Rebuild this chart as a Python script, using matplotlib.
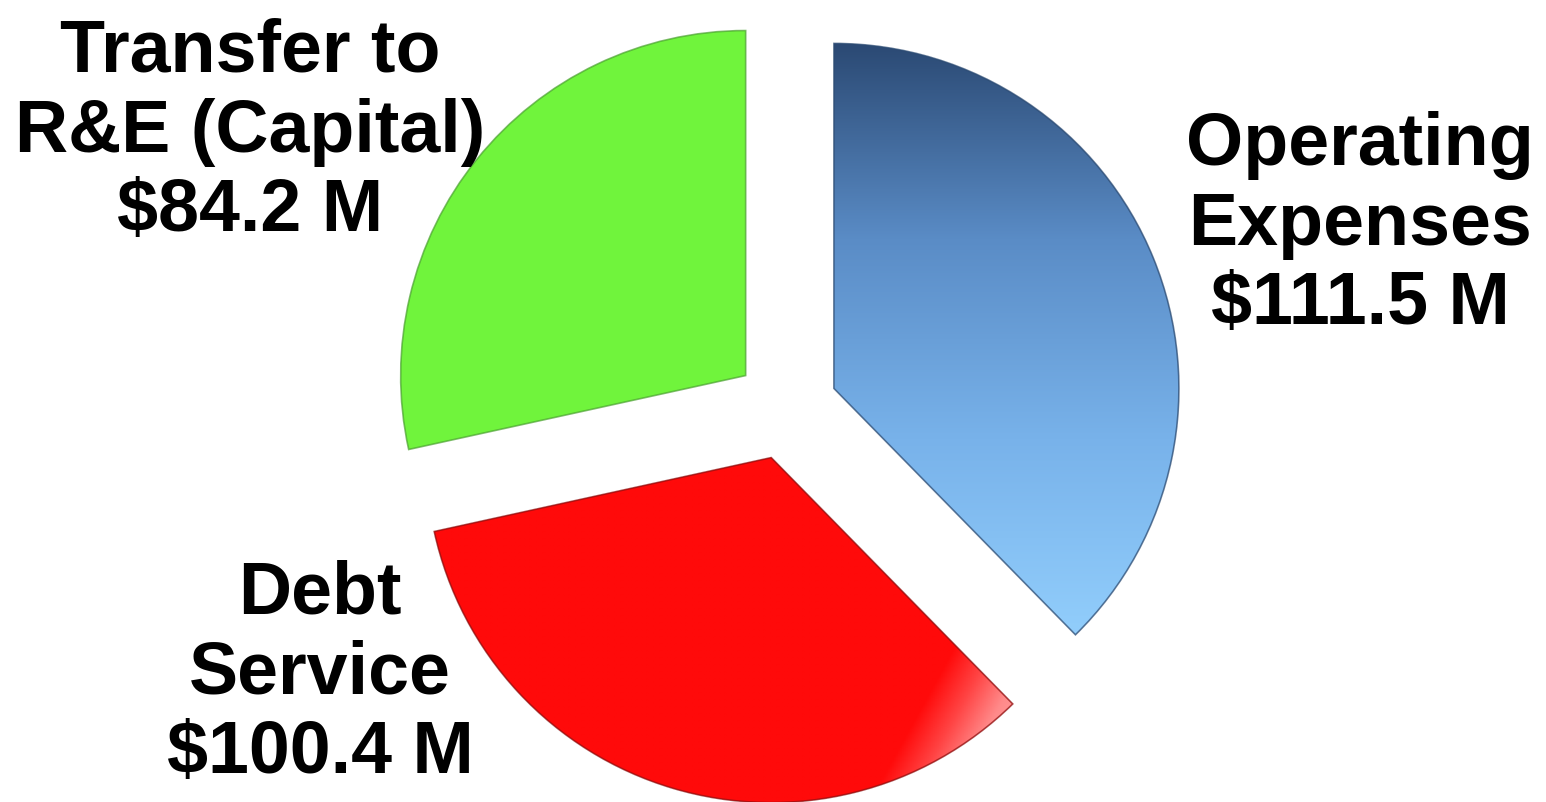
import numpy as np
import matplotlib.pyplot as plt
from matplotlib.colors import LinearSegmentedColormap
from matplotlib.patches import PathPatch

# Data
categories = ["Operating\nExpenses", "Debt\nService", "Transfer to\nR&E (Capital)"]
amounts = [111.5, 100.4, 84.2]  # $ millions
colors = ["#5a8bc4", "#ff0a0a", "#70f43c"]

W, H = 1546, 803
cx, cy, R = 786, 409, 345  # pie centre / radius in pixels (y from top)

fig = plt.figure(figsize=(W / 100, H / 100), dpi=100)
ax = fig.add_axes([0, 0, 1, 1])

wedges, _ = ax.pie(amounts,
                   colors=colors,
                   startangle=90,
                   counterclock=False,
                   radius=1,
                   explode=[0.15, 0.15, 0.15],
                   frame=True,
                   wedgeprops=dict(edgecolor="none"))

# axes in units of the pie radius, so 1 unit = R pixels
ax.set_xlim(-cx / R, (W - cx) / R)
ax.set_ylim(-(H - cy) / R, cy / R)
ax.set_aspect("equal")
ax.axis("off")

def px(x, y):
    # pixel (from top-left) -> data units
    return (x - cx) / R, (cy - y) / R

# blue slice: vertical gradient dark navy -> light sky blue
blue_cmap = LinearSegmentedColormap.from_list("b", ["#92cefc", "#78b2ea", "#5a8cc6", "#2a4872"])
grad = np.linspace(0, 1, 256).reshape(-1, 1)
x0, y0 = px(820, 640)
x1, y1 = px(1190, 40)
im = ax.imshow(grad, cmap=blue_cmap, extent=[x0, x1, y0, y1],
               origin="lower", aspect="auto", zorder=wedges[0].get_zorder() + 0.1)
im.set_clip_path(wedges[0])

# red slice: glossy highlight towards the lower right corner
red_cmap = LinearSegmentedColormap.from_list("r", ["#ff0a0a", "#ff4444", "#ff8a8a", "#ffa0a0"])
xx, yy = np.meshgrid(np.linspace(0, 1, 300), np.linspace(0, 1, 300))
rg = np.clip((xx - 0.33 * yy - 0.75) / 0.2, 0, 1)
x0, y0 = px(430, 805)
x1, y1 = px(1015, 455)
im2 = ax.imshow(rg, cmap=red_cmap, extent=[x0, x1, y0, y1],
                origin="lower", aspect="auto", zorder=wedges[1].get_zorder() + 0.1)
im2.set_clip_path(wedges[1])

# thin darker outlines on top of the fills
edge_cols = ["#2c4a70", "#8a1010", "#4aa030"]
for w, ec in zip(wedges, edge_cols):
    ax.add_patch(PathPatch(w.get_path(), fill=False, edgecolor=ec,
                           linewidth=1.2, alpha=0.7, zorder=5))

# Labels
label_font = dict(fontsize=53, fontweight="bold", family="Liberation Sans",
                  ha="center", va="center", linespacing=1.2, zorder=10)
label_pos = [(1360, 225), (320, 674), (250, 132)]
for cat, amt, (lx, ly) in zip(categories, amounts, label_pos):
    tx, ty = px(lx, ly)
    ax.text(tx, ty, f"{cat}\n${amt:.1f} M", **label_font)

fig.savefig("out.png", dpi=100)
